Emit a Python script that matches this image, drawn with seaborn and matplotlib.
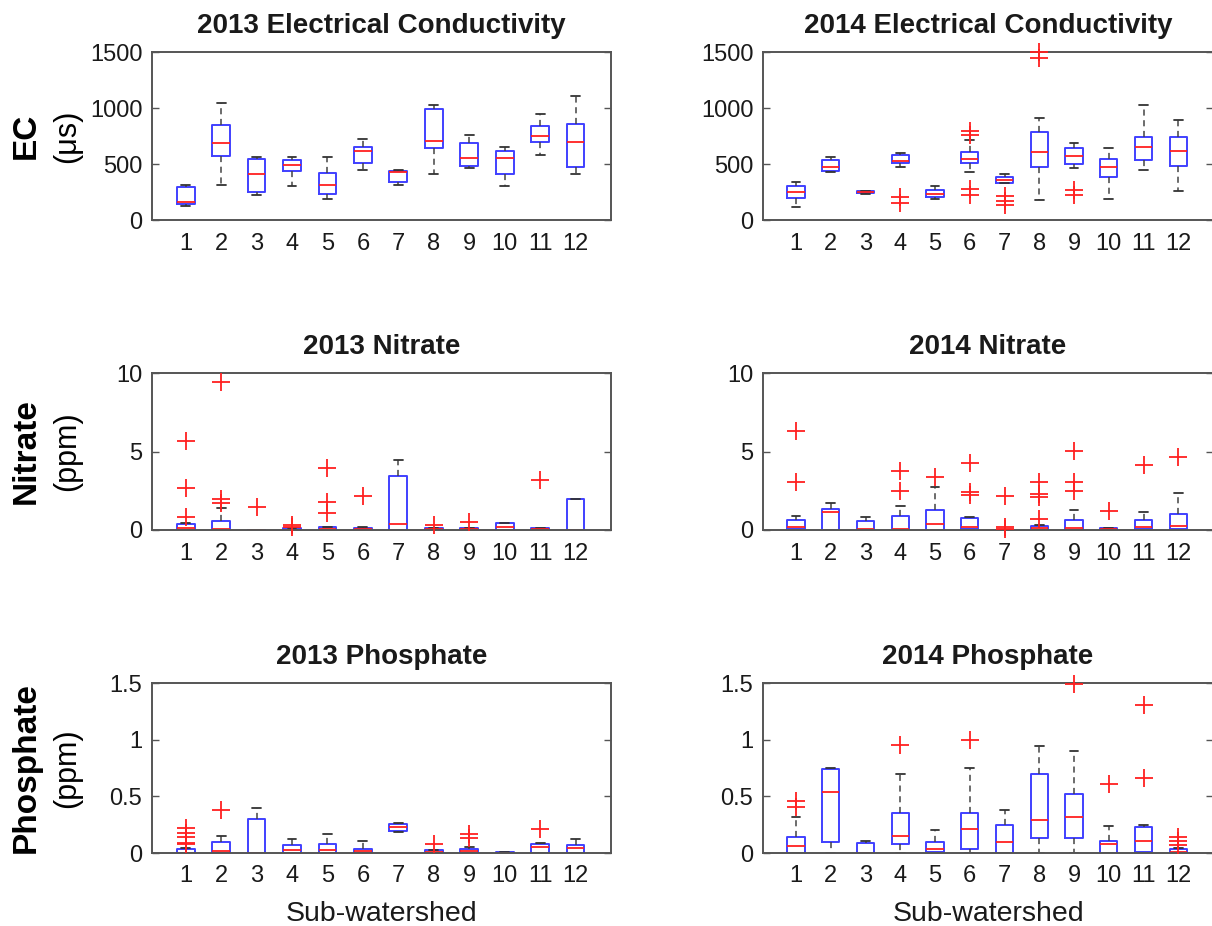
import numpy as np
import pandas as pd
import matplotlib
matplotlib.use("Agg")
import matplotlib.pyplot as plt
import seaborn as sns

# ---------------- data (five-number summaries: low whisker, q1, median, q3, high whisker) -------------
SW = list(range(1, 13))
SW_LABELS = [str(i) for i in SW]

ec_2013 = [
    [122, 143, 161, 292, 315], [315, 568, 687, 845, 1045], [226, 250, 408, 545, 560],
    [307, 434, 488, 533, 560], [187, 232, 315, 420, 560], [449, 509, 613, 649, 726],
    [310, 336, 431, 434, 443], [408, 643, 708, 994, 1024], [461, 485, 554, 687, 756],
    [307, 414, 554, 613, 649], [583, 693, 747, 836, 949], [408, 470, 696, 860, 1104],
]
ec_2013_out = {}

ec_2014 = [
    [119, 200, 253, 304, 343], [432, 438, 477, 537, 561], [230, 239, 253, 258, 262],
    [477, 507, 531, 581, 602], [191, 209, 233, 268, 307], [426, 507, 546, 605, 716],
    [334, 334, 358, 382, 412], [179, 471, 605, 790, 910], [462, 501, 573, 647, 686],
    [188, 388, 471, 543, 647], [447, 537, 656, 745, 1029], [262, 483, 614, 737, 889],
]
ec_2014_out = {4: [209, 149], 6: [799, 760, 274, 224], 7: [210, 170, 130],
               8: [1497, 1446], 9: [268, 224]}

no3_2013 = [
    [0, 0, 0.1, 0.36, 0.42], [0, 0, 0.04, 0.57, 1.42], [0, 0, 0.01, 0.03, 0.03],
    [0, 0, 0.03, 0.1, 0.12], [0, 0, 0.06, 0.2, 0.22], [0, 0, 0.04, 0.15, 0.17],
    [0, 0, 0.36, 3.45, 4.48], [0, 0, 0.04, 0.15, 0.15], [0, 0, 0.04, 0.15, 0.15],
    [0, 0.02, 0.2, 0.42, 0.46], [0, 0, 0.04, 0.15, 0.15], [0, 0, 0.0, 2.0, 2.0],
]
no3_2013_out = {1: [5.7, 2.65, 0.8], 2: [9.45, 1.95, 1.7], 3: [1.48], 4: [0.35, 0.2],
                5: [3.95, 1.8, 1.1], 6: [2.16], 8: [0.35], 9: [0.53], 11: [3.17]}

no3_2014 = [
    [0, 0.04, 0.2, 0.64, 0.9], [0, 0, 1.17, 1.34, 1.75], [0, 0, 0.04, 0.55, 0.8],
    [0, 0, 0.04, 0.91, 1.53], [0, 0, 0.36, 1.28, 2.72], [0, 0.04, 0.2, 0.74, 0.85],
    [0, 0, 0.0, 0.02, 0.03], [0, 0, 0.1, 0.28, 0.3], [0, 0, 0.1, 0.64, 1.28],
    [0, 0, 0.05, 0.12, 0.14], [0, 0.04, 0.2, 0.64, 1.17], [0, 0.04, 0.25, 1.0, 2.34],
]
no3_2014_out = {1: [6.3, 3.05], 4: [3.77, 2.5], 5: [3.4], 6: [4.25, 2.4, 2.23],
                7: [2.17, 0.2, 0.05], 8: [3.08, 2.28, 2.08, 0.68], 9: [5.04, 3.08, 2.49],
                10: [1.21], 11: [4.15], 12: [4.68]}

po4_2013 = [
    [0, 0, 0.003, 0.032, 0.04], [0, 0, 0.02, 0.097, 0.147], [0, 0, 0.0, 0.3, 0.4],
    [0, 0, 0.03, 0.068, 0.126], [0, 0, 0.023, 0.082, 0.17], [0, 0, 0.015, 0.038, 0.106],
    [0.185, 0.19, 0.229, 0.258, 0.264], [0, 0, 0.009, 0.023, 0.03], [0, 0, 0.015, 0.038, 0.05],
    [0, 0, 0.003, 0.005, 0.006], [0, 0, 0.053, 0.082, 0.09], [0, 0, 0.047, 0.073, 0.126],
]
po4_2013_out = {1: [0.22, 0.18, 0.14, 0.09, 0.08], 2: [0.38], 8: [0.082],
                9: [0.17, 0.13], 11: [0.214]}

po4_2014 = [
    [0, 0, 0.06, 0.14, 0.314], [0, 0.097, 0.537, 0.743, 0.75], [0, 0, 0.0, 0.088, 0.106],
    [0, 0.076, 0.147, 0.352, 0.7], [0, 0.009, 0.032, 0.097, 0.2], [0, 0.032, 0.214, 0.352, 0.75],
    [0, 0, 0.097, 0.25, 0.38], [0, 0.135, 0.288, 0.7, 0.94], [0, 0.135, 0.317, 0.52, 0.9],
    [0, 0, 0.076, 0.106, 0.24], [0, 0.006, 0.11, 0.229, 0.25], [0, 0, 0.009, 0.032, 0.04],
]
po4_2014_out = {1: [0.46, 0.41], 4: [0.95], 6: [1.0], 9: [1.49], 10: [0.61],
                11: [1.31, 0.66], 12: [0.14, 0.106, 0.075]}

TITLES = [["2013 Electrical Conductivity", "2014 Electrical Conductivity"],
          ["2013 Nitrate", "2014 Nitrate"],
          ["2013 Phosphate", "2014 Phosphate"]]
ROW_LABELS = [("EC", "(\u03bcs)"), ("Nitrate", "(ppm)"), ("Phosphate", "(ppm)")]
YTICKS = [[0, 500, 1000, 1500], [0, 5, 10], [0, 0.5, 1, 1.5]]
YTICKLABELS = [["0", "500", "1000", "1500"], ["0", "5", "10"], ["0", "0.5", "1", "1.5"]]
YLIMS = [(0, 1500), (0, 10), (0, 1.5)]
XLABEL = "Sub-watershed"

PANELS = [[(ec_2013, ec_2013_out), (ec_2014, ec_2014_out)],
          [(no3_2013, no3_2013_out), (no3_2014, no3_2014_out)],
          [(po4_2013, po4_2013_out), (po4_2014, po4_2014_out)]]

# ---------------- style ----------------
sns.set_style("white")
plt.rcParams["font.family"] = ["Liberation Sans", "DejaVu Sans"]

W, H = 1212, 926
fig = plt.figure(figsize=(W / 100, H / 100), dpi=100)

col_x = [(152, 611), (763, 1213)]
row_y = [(52, 220), (373, 530), (683, 853)]

TEXT = "#1a1a1a"
SPINE = "#555555"

for r in range(3):
    for c in range(2):
        x0, x1 = col_x[c]
        y0, y1 = row_y[r]
        ax = fig.add_axes([x0 / W, 1 - y1 / H, (x1 - x0) / W, (y1 - y0) / H])
        stats, outs = PANELS[r][c]
        df = pd.DataFrame({"sw": np.repeat(SW, 5),
                           "val": np.concatenate([np.array(s, float) for s in stats])})
        sns.boxplot(data=df, x="sw", y="val", native_scale=True, whis=(0, 100),
                    width=0.5, fill=False, showfliers=False, ax=ax, linewidth=1.3,
                    color="blue",
                    boxprops=dict(color="#4040ff", linewidth=1.4),
                    medianprops=dict(color="#ff2020", linewidth=1.3),
                    whiskerprops=dict(color="#444444", linestyle=(0, (4, 3)), linewidth=1.1),
                    capprops=dict(color="#333333", linewidth=1.3))
        ox, oy = [], []
        for k, vals in outs.items():
            for v in vals:
                ox.append(k)
                oy.append(v)
        if ox:
            sns.scatterplot(x=ox, y=oy, marker="+", color="#ff2020", s=170,
                            linewidth=1.3, ax=ax, legend=False, zorder=4, clip_on=False)
        ax.set_xlim(0.05, 13.0)
        ax.set_ylim(*YLIMS[r])
        ax.set_xticks(SW)
        ax.set_xticklabels(SW_LABELS)
        ax.set_yticks(YTICKS[r])
        ax.set_yticklabels(YTICKLABELS[r])
        ax.tick_params(axis="x", length=0, pad=9, labelsize=17, labelcolor=TEXT)
        ax.tick_params(axis="y", direction="in", length=5, width=1, color=SPINE,
                       left=True, right=True, pad=7, labelsize=17, labelcolor=TEXT)
        for sp in ax.spines.values():
            sp.set_visible(True)
            sp.set_color(SPINE)
            sp.set_linewidth(1.4)
        ax.set_xlabel("")
        ax.set_ylabel("")
        ax.set_title(TITLES[r][c], fontsize=20, fontweight="bold", color=TEXT, pad=14)
        if r == 2:
            ax.set_xlabel(XLABEL, fontsize=20.5, color=TEXT, labelpad=10)

    # row labels
    yc = 1 - (row_y[r][0] + row_y[r][1]) / 2 / H
    fig.text(26 / W, yc, ROW_LABELS[r][0], rotation=90, ha="center", va="center",
             fontsize=24, fontweight="bold", color="black")
    fig.text(67 / W, yc, ROW_LABELS[r][1], rotation=90, ha="center", va="center",
             fontsize=22, color="black")

fig.savefig("out.png", dpi=100)
